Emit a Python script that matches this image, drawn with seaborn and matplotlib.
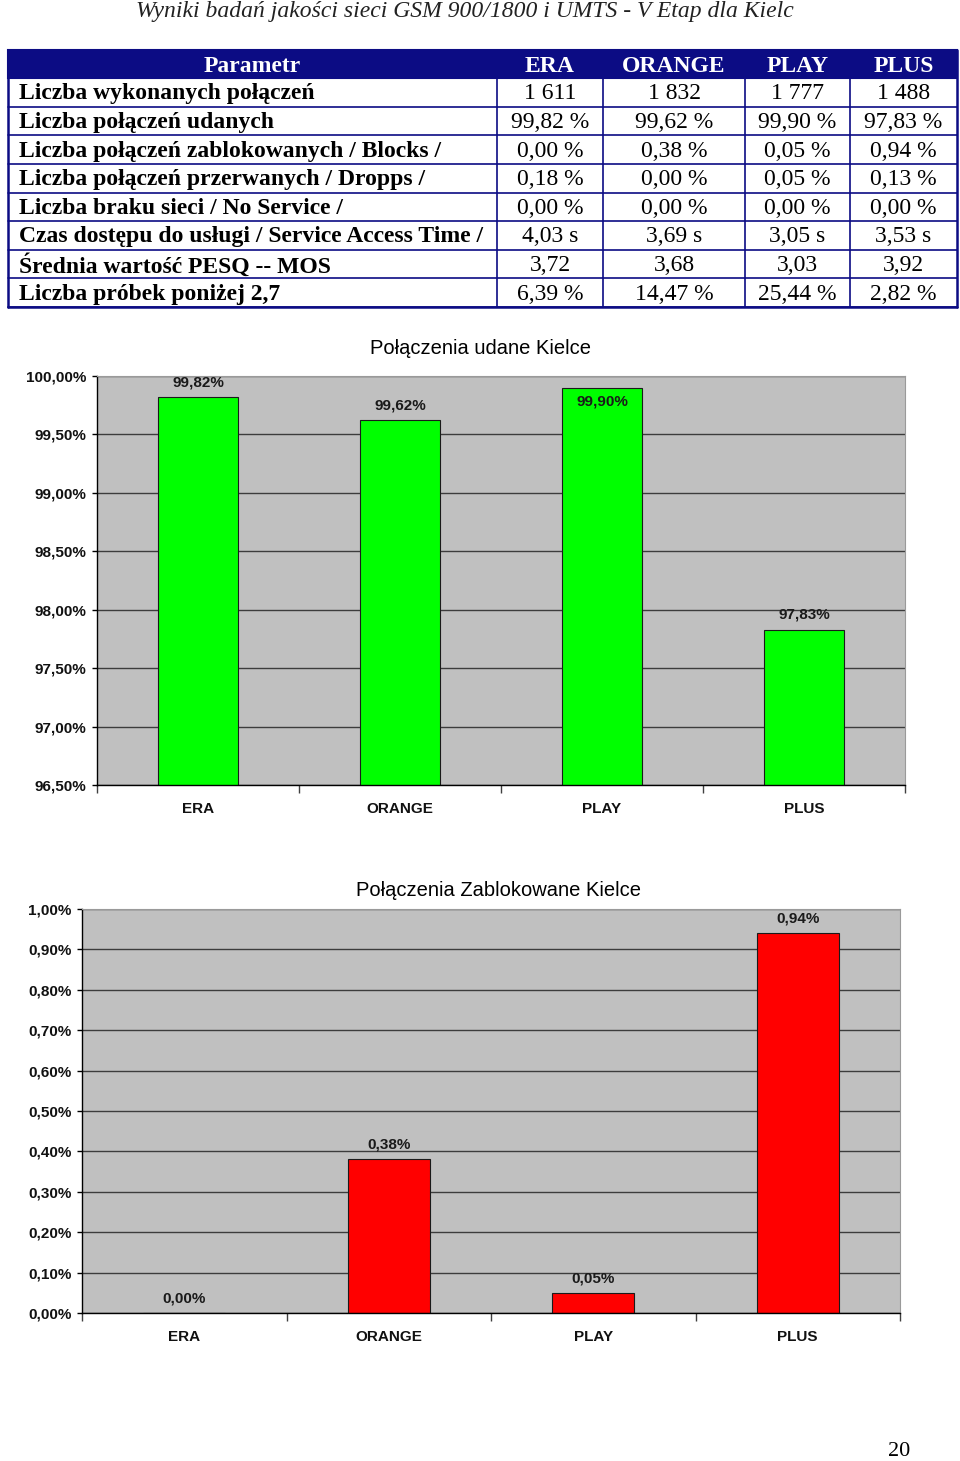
import matplotlib
matplotlib.use("Agg")
import matplotlib.pyplot as plt
import seaborn as sns
import pandas as pd
import numpy as np
from matplotlib.patches import Rectangle
from matplotlib.ticker import FuncFormatter, FixedLocator

# ---------------- data ----------------
page_title = "Wyniki badań jakości sieci GSM 900/1800 i UMTS - V Etap dla Kielc"
page_number = "20"

operators = ["ERA", "ORANGE", "PLAY", "PLUS"]
table_header = ["Parametr", "ERA", "ORANGE", "PLAY", "PLUS"]
param_names = [
    "Liczba wykonanych połączeń",
    "Liczba połączeń udanych",
    "Liczba połączeń zablokowanych / Blocks /",
    "Liczba połączeń przerwanych / Dropps /",
    "Liczba braku sieci / No Service /",
    "Czas dostępu do usługi / Service Access Time /",
    "Średnia wartość PESQ -- MOS",
    "Liczba próbek poniżej 2,7",
]
col_era = ["1 611", "99,82 %", "0,00 %", "0,18 %", "0,00 %", "4,03 s", "3,72", "6,39 %"]
col_orange = ["1 832", "99,62 %", "0,38 %", "0,00 %", "0,00 %", "3,69 s", "3,68", "14,47 %"]
col_play = ["1 777", "99,90 %", "0,05 %", "0,05 %", "0,00 %", "3,05 s", "3,03", "25,44 %"]
col_plus = ["1 488", "97,83 %", "0,94 %", "0,13 %", "0,00 %", "3,53 s", "3,92", "2,82 %"]

chart1_title = "Połączenia udane Kielce"
success = [99.82, 99.62, 99.90, 97.83]
chart1_ticks = [96.5, 97.0, 97.5, 98.0, 98.5, 99.0, 99.5, 100.0]

chart2_title = "Połączenia Zablokowane Kielce"
blocked = [0.00, 0.38, 0.05, 0.94]
chart2_ticks = [0.0, 0.1, 0.2, 0.3, 0.4, 0.5, 0.6, 0.7, 0.8, 0.9, 1.0]

# ---------------- style ----------------
sns.set_theme(style="white")
plt.rcParams["font.family"] = ["Liberation Sans", "DejaVu Sans"]
SERIF = ["Liberation Serif", "DejaVu Serif"]
NAVY = "#0c0c84"

W, H = 960, 1461
fig = plt.figure(figsize=(W / 100, H / 100), dpi=100)
fig.patch.set_facecolor("white")

page = fig.add_axes([0, 0, 1, 1])
page.set_xlim(0, W)
page.set_ylim(H, 0)
page.axis("off")

# page title
page.text(465, 11, page_title, ha="center", va="center", fontsize=17,
          family=SERIF, style="italic", color="#222222")

# ---------------- table ----------------
col_edges = [8, 497, 603, 745, 850, 957]
top, head_bot, bot = 50, 78, 307
n_rows = len(param_names)
row_h = (bot - head_bot) / n_rows
FS = 17

page.add_patch(Rectangle((col_edges[0], top), col_edges[-1] - col_edges[0], head_bot - top,
                         facecolor=NAVY, edgecolor=NAVY, lw=1.5, zorder=1))
for j, h in enumerate(table_header):
    cx = (col_edges[j] + col_edges[j + 1]) / 2
    page.text(cx, (top + head_bot) / 2 + 2, h, ha="center", va="center", fontsize=FS,
              family=SERIF, weight="bold", color="white", zorder=3)

columns = [col_era, col_orange, col_play, col_plus]
for i in range(n_rows):
    y0 = head_bot + i * row_h
    yc = y0 + row_h / 2 + 1.5
    page.text(col_edges[0] + 11, yc, param_names[i], ha="left", va="center", fontsize=FS,
              family=SERIF, weight="bold", color="black", zorder=3)
    for j, col in enumerate(columns):
        cx = (col_edges[j + 1] + col_edges[j + 2]) / 2
        page.text(cx, yc, col[i], ha="center", va="center", fontsize=FS,
                  family=SERIF, color="black", zorder=3)
    page.plot([col_edges[0], col_edges[-1]], [y0 + row_h, y0 + row_h], color=NAVY, lw=1.2, zorder=2)
for x in col_edges[1:-1]:
    page.plot([x, x], [head_bot, bot], color=NAVY, lw=1.2, zorder=2)
page.plot([col_edges[0], col_edges[0]], [top, bot], color=NAVY, lw=1.8, zorder=2)
page.plot([col_edges[-1], col_edges[-1]], [top, bot], color=NAVY, lw=1.8, zorder=2)
page.plot([col_edges[0], col_edges[-1]], [bot, bot], color=NAVY, lw=1.8, zorder=2)

# page number
page.text(899, 1451, page_number, ha="center", va="center", fontsize=16, family=SERIF, color="black")


# ---------------- charts ----------------
def px_axes(left, t, right, b):
    return fig.add_axes([left / W, 1 - b / H, (right - left) / W, (b - t) / H])


def fmt_pct(v):
    return f"{v:.2f}%".replace(".", ",")


def bar_chart(ax, values, color, ticks, title, title_xy):
    df = pd.DataFrame({"operator": operators, "value": values})
    sns.barplot(data=df, x="operator", y="value", color=color, saturation=1, width=0.4,
                edgecolor="#1a1a1a", linewidth=0.8, ax=ax, errorbar=None)
    ymin, ymax = ticks[0], ticks[-1]
    ax.set_facecolor("#C0C0C0")
    ax.set_ylim(ymin, ymax)
    ax.set_xlim(-0.5, len(operators) - 0.5)
    ax.set_yticks(ticks)
    ax.yaxis.set_major_formatter(FuncFormatter(lambda v, p: fmt_pct(v)))
    ax.grid(axis="y", color="#3c3c3c", lw=1.0)
    ax.grid(axis="x", visible=False)
    ax.set_axisbelow(True)
    ax.set_xlabel("")
    ax.set_ylabel("")
    ax.tick_params(axis="y", which="major", left=True, length=3.5, width=1, color="black",
                   pad=4, labelsize=11, labelcolor="#111111")
    ax.tick_params(axis="x", which="major", bottom=False, length=0, pad=12, labelsize=11,
                   labelcolor="#111111")
    ax.xaxis.set_minor_locator(FixedLocator(np.arange(-0.5, len(operators), 1.0)))
    ax.tick_params(axis="x", which="minor", bottom=True, length=6, width=1, color="#404040",
                   direction="out")
    for lab in ax.get_yticklabels() + ax.get_xticklabels():
        lab.set_fontweight("bold")
    for s in ["left", "bottom"]:
        ax.spines[s].set_color("black")
        ax.spines[s].set_linewidth(1.0)
    for s in ["top", "right"]:
        ax.spines[s].set_color("#9a9a9a")
        ax.spines[s].set_linewidth(0.8)
    # value labels
    ax_h_px = ax.get_position().height * H
    for i, v in enumerate(values):
        room_px = (ymax - v) / (ymax - ymin) * ax_h_px
        if room_px < 15:
            ax.annotate(fmt_pct(v), (i, v), xytext=(0, -5), textcoords="offset points",
                        ha="center", va="top", fontsize=11, weight="bold", color="#1a1a1a")
        else:
            ax.annotate(fmt_pct(v), (i, v), xytext=(0, 5.5), textcoords="offset points",
                        ha="center", va="bottom", fontsize=11, weight="bold", color="#1a1a1a",
                        annotation_clip=False)
    page.text(title_xy[0], title_xy[1], title, ha="center", va="center", fontsize=14.5,
              color="black")


ax1 = px_axes(97, 376, 905, 785)
bar_chart(ax1, success, "#00FF00", chart1_ticks, chart1_title, (480, 348))

ax2 = px_axes(82, 909, 900, 1313)
bar_chart(ax2, blocked, "#FF0000", chart2_ticks, chart2_title, (498, 891))

fig.savefig("out.png", dpi=100, facecolor="white")
